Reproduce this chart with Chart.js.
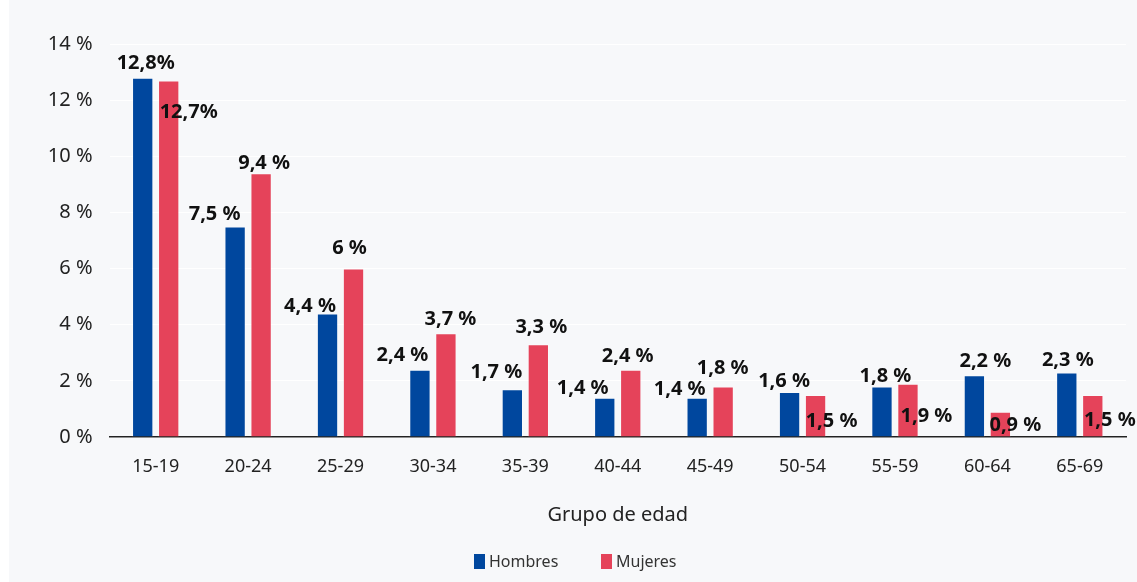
<!DOCTYPE html>
<html>
<head>
<meta charset="utf-8">
<script src="https://cdn.jsdelivr.net/npm/chart.js@4"></script>
<style>
  html, body { margin: 0; padding: 0; background: #fff; }
  #wrap { position: relative; width: 1137px; height: 582px; }
  #bg { position: absolute; left: 9px; top: 0; right: 0; bottom: 0; background: #f7f8fa; }
  #wrap canvas { position: absolute; left: 0; top: 0; }
  .legend { position: absolute; top: 551px; left: 0; width: 1137px; font: 16px "Noto Sans", sans-serif; color: #333; }
  .legend span.item { position: absolute; top: 0; white-space: nowrap; line-height: 20px; }
  .legend i { display: inline-block; width: 11px; height: 15px; vertical-align: -2px; margin-right: 4px; }
</style>
</head>
<body>
<div id="wrap">
  <div id="bg"></div>
  <canvas id="barChart" width="1137" height="582"></canvas>
  <div class="legend">
    <span class="item" style="left:474px"><i style="background:#00479e"></i>Hombres</span>
    <span class="item" style="left:601px"><i style="background:#e5435a"></i>Mujeres</span>
  </div>
</div>
<script>
var ageGroups = ["15-19", "20-24", "25-29", "30-34", "35-39", "40-44", "45-49", "50-54", "55-59", "60-64", "65-69"];
var hombres = [12.8, 7.5, 4.4, 2.4, 1.7, 1.4, 1.4, 1.6, 1.8, 2.2, 2.3];
var mujeres = [12.7, 9.4, 6.0, 3.7, 3.3, 2.4, 1.8, 1.5, 1.9, 0.9, 1.5];
var yTicks = [0, 2, 4, 6, 8, 10, 12, 14];

// where each value label sits relative to the top of its bar
var labelOffsets = [
  { dx: [3, -20.5, -17.5, -17.5, -16, -22, -17.5, -5.5, 3.5, 11, 1],
    dy: [-15, -13.5, -8.5, -15, -18, -10, -9, -12, -11, -15, -13] },
  { dx: [20, 3, -4, 4.5, 3, -3, -0.5, 16, 18.5, 15, 17],
    dy: [31, -11, -21.5, -15, -18, -14, -19.5, 25.5, 31.5, 12.5, 24.5] }
];

function fmt(v) {
  var s = (v % 1 === 0) ? String(v) : v.toFixed(1).replace(".", ",");
  return s + (v >= 10 ? "%" : " %");
}

var valueLabels = {
  id: "valueLabels",
  afterDatasetsDraw: function (chart) {
    var ctx = chart.ctx;
    ctx.save();
    ctx.font = "bold 20px 'Noto Sans'";
    ctx.fillStyle = "#111";
    ctx.textAlign = "center";
    ctx.textBaseline = "middle";
    chart.data.datasets.forEach(function (ds, d) {
      var meta = chart.getDatasetMeta(d);
      meta.data.forEach(function (bar, i) {
        ctx.fillText(fmt(ds.data[i]), bar.x + labelOffsets[d].dx[i], bar.y + labelOffsets[d].dy[i] + 1);
      });
    });
    ctx.restore();
  }
};

var barCanvas = document.getElementById("barChart");

var barChart = new Chart(barCanvas, {
  type: "bar",
  data: {
    labels: ageGroups,
    datasets: [
      { label: "Hombres", data: hombres, backgroundColor: "#00479e", borderColor: "rgba(255,255,255,0.3)", borderWidth: 1 },
      { label: "Mujeres", data: mujeres, backgroundColor: "#e5435a", borderColor: "rgba(255,255,255,0.3)", borderWidth: 1 }
    ]
  },
  options: {
    responsive: false,
    animation: false,
    events: [],
    layout: { padding: { top: 44, right: 11, bottom: 45, left: 0 } },
    datasets: { bar: { categoryPercentage: 0.5625, barPercentage: 0.82 } },
    plugins: {
      legend: { display: false },
      tooltip: { enabled: false }
    },
    scales: {
      x: {
        grid: { display: false, drawTicks: false },
        border: { display: true, color: "#222", width: 1.5 },
        ticks: { color: "#222", padding: 19, font: { family: "Noto Sans", size: 18 } },
        title: { display: true, text: "Grupo de edad", color: "#222", font: { family: "Noto Sans", size: 20 }, padding: { top: 0, bottom: 10 } },
        afterFit: function (scale) { scale.height = 100; }
      },
      y: {
        min: 0,
        max: 14,
        afterBuildTicks: function (scale) { scale.ticks = yTicks.map(function (v) { return { value: v }; }); },
        grid: { color: "#ffffff", lineWidth: 1, drawTicks: false },
        border: { display: false },
        ticks: {
          color: "#222",
          padding: 17,
          font: { family: "Noto Sans", size: 20 },
          callback: function (v) { return v + " %"; }
        },
        afterFit: function (scale) { scale.width = 109.5; }
      }
    }
  },
  plugins: [valueLabels]
});
</script>
</body>
</html>
